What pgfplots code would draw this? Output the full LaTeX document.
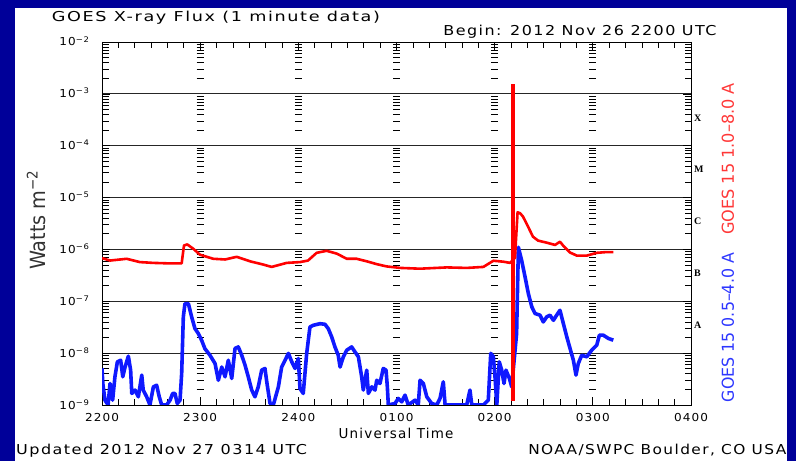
\documentclass[border=0pt]{standalone}
\usepackage{fontspec}
\usepackage{graphicx}
\usepackage{pgfplots}
\pgfplotsset{compat=1.18}
\setmainfont{DejaVu Sans}[FakeStretch=1.1, LetterSpace=10]
\newfontfamily\labelfont{DejaVu Sans}
\newfontfamily\classfont{Liberation Serif}

\definecolor{bgnavy}{RGB}{0,0,153}
\definecolor{fluxred}{RGB}{255,0,0}
\definecolor{fluxblue}{RGB}{15,25,255}
\definecolor{labred}{RGB}{255,55,55}
\definecolor{labblue}{RGB}{45,55,255}

% stretch a text horizontally to a given width, keeping its height
\newcommand\wtext[2]{\resizebox{#1}{\height}{#2}}

% GOES 15 long channel, 1.0-8.0 A  (minutes after 2200 UTC, W m^-2)
\pgfplotstableread{
t      flux
0      6.8e-7
4.9    6.1e-7
15.1   6.6e-7
23.2   5.7e-7
31.2   5.5e-7
39.5   5.4e-7
48.7   5.4e-7
50.1   1.19e-6
52.1   1.25e-6
55.8   1.03e-6
59.9   7.9e-7
68.0   6.6e-7
75.2   6.4e-7
82.3   7.2e-7
90.5   5.9e-7
98.6   5.1e-7
103.7  4.6e-7
112.9  5.5e-7
121.0  5.7e-7
125.9  6.1e-7
131.2  8.6e-7
137.3  9.4e-7
143.5  8.3e-7
149.6  6.6e-7
155.7  6.6e-7
161.8  5.9e-7
167.9  5.2e-7
174.0  4.7e-7
182.2  4.4e-7
194.4  4.25e-7
210.7  4.5e-7
222.9  4.4e-7
233.1  4.6e-7
239.2  6.05e-7
245.3  5.8e-7
249.4  5.5e-7
252.4  6.9e-7
254.0  5.2e-6
255.5  5.0e-6
257.3  4.3e-6
260.4  2.75e-6
263.4  1.76e-6
266.5  1.48e-6
271.8  1.35e-6
276.9  1.22e-6
279.9  1.41e-6
282.0  1.17e-6
286.1  8.7e-7
290.2  7.6e-7
296.3  7.6e-7
302.4  8.6e-7
308.5  8.9e-7
312.5  8.9e-7
}\longchan

% GOES 15 short channel, 0.5-4.0 A
\pgfplotstableread{
t      flux
0      5.1e-9
0.5    2.6e-9
1.8    1.24e-9
3.7    1.0e-9
4.9    2.6e-9
6.5    1.24e-9
7.9    3.5e-9
9.4    6.8e-9
11.4   7.3e-9
12.7   3.5e-9
14.1   5.4e-9
16.1   8.75e-9
17.5   4.7e-9
18.2   1.67e-9
20.2   1.94e-9
22.2   1.44e-9
24.3   3.77e-9
25.2   1.94e-9
27.3   1.44e-9
29.3   1.0e-9
31.4   2.24e-9
33.4   2.4e-9
35.0   1.44e-9
36.5   1.0e-9
39.5   1.0e-9
41.6   1.24e-9
43.2   1.67e-9
44.6   1.67e-9
46.0   1.07e-9
47.7   1.24e-9
48.7   4.1e-9
49.7   4.98e-8
50.7   9.0e-8
52.8   9.0e-8
54.8   5.0e-8
56.8   2.98e-8
58.9   2.38e-8
60.9   1.77e-8
62.9   1.22e-8
66.0   9.1e-9
69.1   6.3e-9
71.1   3.0e-9
73.2   5.4e-9
75.2   3.5e-9
77.2   7.3e-9
79.3   3.25e-9
81.3   1.23e-8
83.3   1.32e-8
85.4   9.1e-9
87.4   5.9e-9
89.4   3.5e-9
91.5   1.94e-9
93.5   1.44e-9
95.5   2.24e-9
97.6   4.7e-9
99.6   5.07e-9
100.7  2.8e-9
102.7  1.07e-9
104.7  1.0e-9
107.8  2.24e-9
109.8  5.4e-9
111.9  7.3e-9
113.9  9.9e-9
116.0  6.8e-9
118.0  5.07e-9
120.0  7.9e-9
121.0  2.08e-9
123.0  1.67e-9
125.1  9.9e-9
127.1  3.2e-8
129.2  3.45e-8
133.3  3.7e-8
136.3  3.6e-8
138.3  2.97e-8
140.4  2.05e-8
142.4  1.31e-8
144.4  9.1e-9
145.5  5.4e-9
147.5  8.5e-9
149.6  1.14e-8
152.6  1.32e-8
154.6  1.06e-8
156.7  8.5e-9
158.7  3.5e-9
159.7  1.94e-9
161.8  4.7e-9
162.8  1.67e-9
164.9  2.24e-9
166.9  1.94e-9
167.9  3.0e-9
169.9  2.6e-9
171.9  5.07e-9
173.6  4.7e-9
174.4  2.24e-9
175.0  1.0e-9
179.1  1.07e-9
181.1  1.34e-9
183.2  1.15e-9
185.2  1.55e-9
187.2  1.0e-9
191.3  1.24e-9
193.3  1.0e-9
194.4  3.0e-9
196.4  2.6e-9
198.5  1.44e-9
201.5  1.07e-9
204.6  1.0e-9
206.6  1.34e-9
208.6  2.8e-9
209.7  1.0e-9
222.9  1.0e-9
224.9  1.94e-9
226.0  1.0e-9
233.1  1.0e-9
236.1  1.24e-9
237.6  9.9e-9
239.2  8.5e-9
240.2  3.5e-9
241.3  1.0e-9
242.8  6.8e-9
244.3  4.7e-9
245.7  2.6e-9
246.9  4.7e-9
249.0  3.25e-9
250.4  2.24e-9
253.4  2.38e-8
254.5  1.1e-6
256.5  6.1e-7
258.6  2.92e-7
260.6  1.4e-7
262.7  7.8e-8
264.7  5.8e-8
267.7  5.4e-8
269.7  4.0e-8
271.8  5.0e-8
273.8  5.4e-8
275.9  4.3e-8
277.9  5.4e-8
279.9  6.7e-8
282.0  3.7e-8
284.1  2.05e-8
286.1  1.22e-8
288.1  7.3e-9
289.7  3.77e-9
291.1  6.3e-9
293.2  9.1e-9
296.3  8.5e-9
299.3  1.14e-8
302.4  1.43e-8
304.0  2.22e-8
306.4  2.22e-8
309.5  1.92e-8
312.5  1.78e-8
}\shortchan

\begin{document}
\begin{tikzpicture}[x=1bp,y=1bp]
\useasboundingbox (0,0) rectangle (796,461);
\fill[bgnavy] (0,0) rectangle (796,461);
\fill[white] (15,0) rectangle (787,453);

\begin{axis}[
  at={(102bp,56bp)}, anchor=south west,
  scale only axis, width=589bp, height=363bp,
  xmin=0, xmax=360,
  ymode=log, log basis y=10, ymin=1e-9, ymax=1e-2,
  xtick={0,60,120,180,240,300,360},
  xticklabels={2200,2300,2400,0100,0200,0300,0400},
  minor xtick={10,20,30,40,50,70,80,90,100,110,130,140,150,160,170,
    190,200,210,220,230,250,260,270,280,290,310,320,330,340,350},
  ytick={1e-9,1e-8,1e-7,1e-6,1e-5,1e-4,1e-3,1e-2},
  minor ytick={2e-9,3e-9,4e-9,5e-9,6e-9,7e-9,8e-9,9e-9,
    2e-8,3e-8,4e-8,5e-8,6e-8,7e-8,8e-8,9e-8,
    2e-7,3e-7,4e-7,5e-7,6e-7,7e-7,8e-7,9e-7,
    2e-6,3e-6,4e-6,5e-6,6e-6,7e-6,8e-6,9e-6,
    2e-5,3e-5,4e-5,5e-5,6e-5,7e-5,8e-5,9e-5,
    2e-4,3e-4,4e-4,5e-4,6e-4,7e-4,8e-4,9e-4,
    2e-3,3e-3,4e-3,5e-3,6e-3,7e-3,8e-3,9e-3},
  yticklabels={10\textsuperscript{−9},10\textsuperscript{−8},10\textsuperscript{−7},
    10\textsuperscript{−6},10\textsuperscript{−5},10\textsuperscript{−4},
    10\textsuperscript{−3},10\textsuperscript{−2}},
  tick align=inside, xtick pos=both, ytick pos=both,
  major tick length=8bp, minor tick length=6.5bp,
  every tick/.style={black, line width=0.7bp},
  ymajorgrids=true,
  major grid style={black!85, line width=0.9bp},
  axis line style={black, line width=0.9bp},
  tick label style={font=\fontsize{11}{12}\selectfont},
  xticklabel style={anchor=base, yshift=-16.5bp},
  yticklabel style={anchor=base east, xshift=-9bp, yshift=-4bp},
  clip mode=individual,
]
% short-tick ladders at each hour
\foreach \h in {60,120,180,240,300}{
  \foreach \e in {-9,...,-3}{
    \foreach \m in {2,...,9}{
      \edef\doit{\noexpand\draw[black, line width=0.7bp]
        (axis cs:\h,\m e\e) ++(-3.5bp,0bp) -- ++(7bp,0bp);}\doit
    }}}
\addplot[fluxblue, line width=3.6bp, line join=round] table[x=t, y=flux] {\shortchan};
\addplot[fluxred, line width=2.6bp, line join=round] table[x=t, y=flux] {\longchan};
\addplot[fluxred, line width=4.8bp] coordinates {(251.2,1.2e-9) (251.2,1.55e-3)};
\end{axis}

% flare classes
\begin{scope}[every node/.style={anchor=west, inner sep=0pt,
    font=\classfont\bfseries\fontsize{10}{12}\selectfont}]
  \node at (694,343) {X};
  \node at (694,292) {M};
  \node at (694,240) {C};
  \node at (694,188) {B};
  \node at (694,136) {A};
\end{scope}

% titles and labels
\node[anchor=base west, inner sep=0pt] at (51.7,439.3)
  {\fontsize{13.7}{16}\selectfont\wtext{328bp}{GOES X-ray Flux (1 minute data)}};
\node[anchor=base east, inner sep=0pt] at (716.7,425.3)
  {\fontsize{13.7}{16}\selectfont\wtext{273bp}{Begin: 2012 Nov 26 2200 UTC}};
\node[anchor=base, inner sep=0pt] at (396,22)
  {\fontsize{13.7}{16}\selectfont\wtext{115bp}{Universal Time}};
\node[anchor=base west, inner sep=0pt] at (16,6)
  {\fontsize{13.7}{16}\selectfont\wtext{291bp}{Updated 2012 Nov 27 0314 UTC}};
\node[anchor=base east, inner sep=0pt] at (786.5,6)
  {\fontsize{13.7}{16}\selectfont\wtext{258bp}{NOAA/SWPC Boulder, CO USA}};

\node[rotate=90, inner sep=0pt, text=labred] at (728,302)
  {\labelfont\fontsize{16.5}{18}\selectfont\wtext{152bp}{GOES 15 1.0–8.0 A}};
\node[rotate=90, inner sep=0pt, text=labblue] at (728,133.5)
  {\labelfont\fontsize{16.5}{18}\selectfont\wtext{149bp}{GOES 15 0.5–4.0 A}};

\node[rotate=90, inner sep=0pt, text=black!80] at (36,241)
  {\labelfont\fontsize{21}{24}\selectfont\wtext{100bp}{Watts m\textsuperscript{−2}}};
\end{tikzpicture}
\end{document}
